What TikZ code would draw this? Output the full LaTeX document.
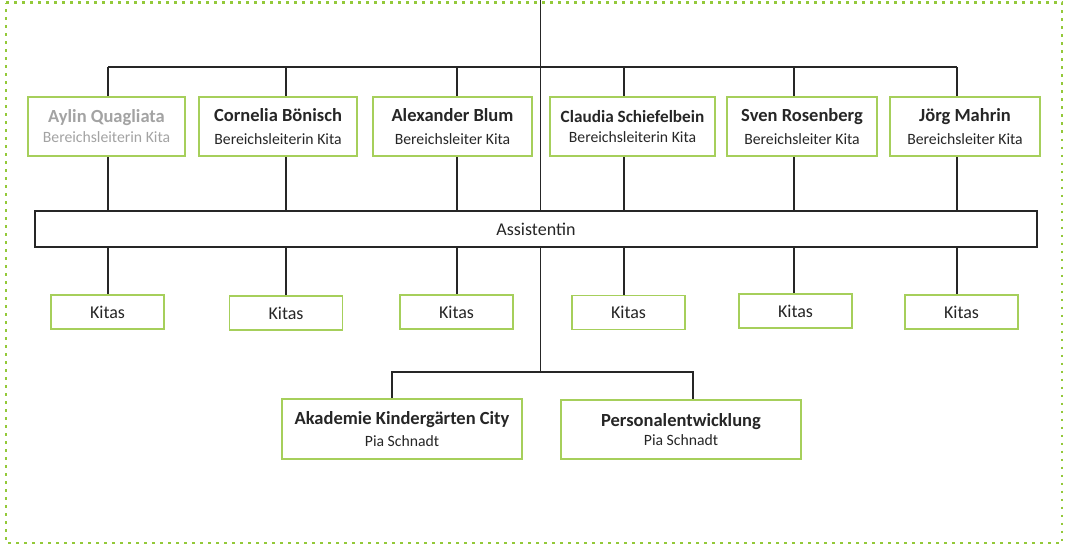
\documentclass[tikz,border=0pt]{standalone}
\usepackage{fontspec}
\setmainfont{Carlito}
\definecolor{boxgreen}{HTML}{A6CF5B}
\definecolor{dotgreen}{HTML}{93C93A}
\definecolor{linegray}{HTML}{262626}
\definecolor{txt}{HTML}{262626}
\definecolor{greytxt}{HTML}{A3A3A3}
\newcommand{\nm}[1]{{\fontsize{18.5}{23}\selectfont\bfseries #1}}
\newcommand{\sub}[1]{{\fontsize{15.7}{23}\selectfont #1}}
\begin{document}
\begin{tikzpicture}[x=1pt,y=-1pt,
  orgbox/.style={draw=boxgreen,line width=1.5pt,fill=white,inner sep=0pt,align=center,text=txt,
    font=\fontsize{15.7}{23}\selectfont},
  topbox/.style={orgbox,minimum height=59pt},
  kitabox/.style={orgbox,minimum width=113pt,minimum height=34pt,font=\fontsize{18}{22}\selectfont},
  conn/.style={draw=linegray,line width=1.3pt},
  frame/.style={draw=dotgreen,line width=2.8pt,dash pattern=on 2.8pt off 5.2pt}]
\useasboundingbox (0,0) rectangle (1067,546);
\draw[frame] (6,2.5) -- (1062,2.5) -- (1062,543) -- (6,543) -- cycle;

% coordinates of the connector lines
\coordinate (top) at (540.5,0);
\coordinate (b1) at (108,67);
\coordinate (b2) at (286,67);
\coordinate (b3) at (457,67);
\coordinate (b4) at (624,67);
\coordinate (b5) at (794,67);
\coordinate (b6) at (957,67);
\coordinate (c1) at (392,372);
\coordinate (c2) at (693,372);
\coordinate (cm) at (540.5,372);

% connectors (drawn first, boxes cover them)
\draw[conn] (top) -- (cm);
\draw[conn] (b1) -- (b6);
\foreach \i in {1,...,6} {
  \draw[conn] (b\i) -- ++(0,230);
}
\draw[conn] (c1 |- 0,400) -- (c1) -- (c2) -- (c2 |- 0,400);

% top boxes
\node[topbox,minimum width=157pt,text=greytxt,font=\fontsize{15.7}{20}\selectfont] (t1) at (106.5,126.5)
  {{\fontsize{18.5}{20}\selectfont\bfseries Aylin Quagliata}\\Bereichsleiterin Kita};
\node[topbox,minimum width=158pt] (t2) at (278,126.5) {\nm{Cornelia Bönisch}\\\sub{Bereichsleiterin Kita}};
\node[topbox,minimum width=159pt] (t3) at (452.5,126.5) {\nm{Alexander Blum}\\\sub{Bereichsleiter Kita}};
\node[topbox,minimum width=165pt,font=\fontsize{15.7}{20}\selectfont] (t4) at (632.5,126.5)
  {{\fontsize{17.2}{20}\selectfont\bfseries Claudia Schiefelbein}\\Bereichsleiterin Kita};
\node[topbox,minimum width=150pt] (t5) at (802,126.5) {\nm{Sven Rosenberg}\\\sub{Bereichsleiter Kita}};
\node[topbox,minimum width=150pt] (t6) at (965,126.5) {\nm{Jörg Mahrin}\\\sub{Bereichsleiter Kita}};

% assistant bar
\node[draw=linegray,line width=1.3pt,fill=white,minimum width=1002pt,minimum height=36pt,inner sep=0pt,
  text=txt,font=\fontsize{18}{22}\selectfont] (ass) at (536,229) {Assistentin};

% Kitas
\node[kitabox] (k1) at (107.5,312) {Kitas};
\node[kitabox] (k2) at (286,313) {Kitas};
\node[kitabox] (k3) at (456.5,312) {Kitas};
\node[kitabox] (k4) at (628.5,312.5) {Kitas};
\node[kitabox] (k5) at (795.5,311) {Kitas};
\node[kitabox] (k6) at (961.5,312) {Kitas};

% lower boxes
\node[orgbox,minimum width=240pt,minimum height=60pt,font=\fontsize{15.7}{22}\selectfont] (ak) at (402,429)
  {{\fontsize{18.5}{22}\selectfont\bfseries Akademie Kindergärten City}\\Pia Schnadt};
\node[orgbox,minimum width=240pt,minimum height=59pt,font=\fontsize{15.7}{19}\selectfont] (pe) at (681,429.5)
  {{\fontsize{18.5}{19}\selectfont\bfseries Personalentwicklung}\\Pia Schnadt};
\end{tikzpicture}
\end{document}
